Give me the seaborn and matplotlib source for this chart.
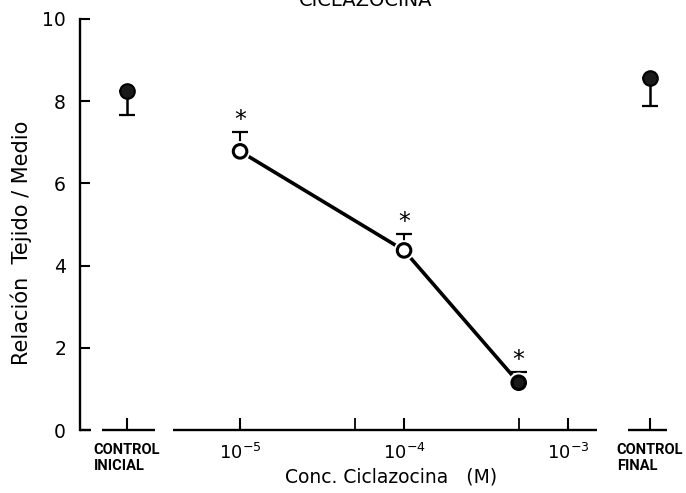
import numpy as np
import pandas as pd
import matplotlib
matplotlib.use("Agg")
import matplotlib.pyplot as plt
import matplotlib.patheffects as pe
from matplotlib import font_manager
from matplotlib.ticker import FixedLocator, NullFormatter
import seaborn as sns

# ---- data ----
conc = [1e-5, 1e-4, 5e-4]                 # M
ratio = [6.78, 4.37, 1.15]                # Relación Tejido / Medio
ratio_err_up = [0.46, 0.41, 0.26]
control_labels = ["CONTROL\nINICIAL", "CONTROL\nFINAL"]
control_vals = [8.24, 8.56]
control_err_down = [0.58, 0.68]
y_ticks = [0, 2, 4, 6, 8, 10]
dose_ticks = [1e-5, 1e-4, 1e-3]
dose_tick_labels = [r"$\mathregular{10^{-5}}$", r"$\mathregular{10^{-4}}$", r"$\mathregular{10^{-3}}$"]
dose_minor_ticks = [5e-5, 5e-4]

# ---- layout (log10 units on the x axis) ----
control_pos = [10 ** -5.689, 10 ** -2.50]
axis_segments = [(-5.976, -5.909), (-5.841, -5.518), (-5.409, -2.823), (-2.634, -2.396)]
open_marker = [True, True, False]

sns.set_theme(style="ticks")
plt.rcParams["font.family"] = ["DejaVu Sans"]
for k in ["text.color", "axes.labelcolor", "xtick.color", "ytick.color", "axes.edgecolor"]:
    plt.rcParams[k] = "black"

installed = {f.name for f in font_manager.fontManager.ttflist}
ctrl_font = "Roboto" if "Roboto" in installed else "DejaVu Sans"
ctrl_size = 10.5 if ctrl_font == "Roboto" else 9.5

fig = plt.figure(figsize=(6.86, 4.93), dpi=100)
ax = fig.add_axes([80 / 686, 63 / 493, 595 / 686, 411 / 493])
ax.set_xscale("log")
ax.set_xlim(10 ** -5.976, 10 ** -2.348)
ax.set_ylim(0, 10)

df = pd.DataFrame({"conc": conc, "ratio": ratio})
sns.lineplot(data=df, x="conc", y="ratio", color="black", lw=2.6, ax=ax, zorder=2)

# error bars (upper only) on dose points
ax.errorbar(conc, ratio, yerr=[np.zeros(len(ratio)), ratio_err_up], fmt="none",
            ecolor="black", elinewidth=1.5, capsize=6, capthick=1.6, zorder=3)
# error bars (lower only) on controls
ax.errorbar(control_pos, control_vals, yerr=[control_err_down, np.zeros(len(control_vals))],
            fmt="none", ecolor="black", elinewidth=1.8, capsize=6, capthick=1.6, zorder=3)

halo = [pe.Stroke(linewidth=5, foreground="white"), pe.Normal()]
for x, y, op in zip(conc, ratio, open_marker):
    sc = ax.scatter([x], [y], s=95, facecolor="white" if op else "#1a1a1a",
                    edgecolor="black", linewidth=2.2, zorder=4)
    sc.set_path_effects(halo)
sns.scatterplot(x=control_pos, y=control_vals, s=110, color="#1a1a1a",
                edgecolor="black", linewidth=1.5, ax=ax, zorder=4)

for x, y, e in zip(conc, ratio, ratio_err_up):
    ax.annotate("*", (x, y + e), xytext=(0, 0), textcoords="offset points",
                ha="center", va="bottom", fontsize=17, color="black")

# axes styling
for s in ["top", "right", "bottom"]:
    ax.spines[s].set_visible(False)
ax.spines["left"].set_linewidth(1.7)
for a, b in axis_segments:
    ax.hlines(0, 10 ** a, 10 ** b, color="black", lw=1.7, clip_on=False, zorder=1)

ax.set_yticks(y_ticks)
ax.set_yticklabels([str(t) for t in y_ticks], fontsize=13.5)
ax.set_xticks(control_pos + dose_ticks)
ax.set_xticklabels(control_labels + dose_tick_labels)
ax.xaxis.set_minor_locator(FixedLocator(dose_minor_ticks))
ax.xaxis.set_minor_formatter(NullFormatter())
for lab in ax.get_xticklabels()[:2]:
    lab.set_fontsize(ctrl_size)
    lab.set_family(ctrl_font)
    lab.set_fontweight("bold")
    lab.set_ha("center")
    lab.set_multialignment("left")
    lab.set_linespacing(1.25)
for lab in ax.get_xticklabels()[2:]:
    lab.set_fontsize(13)

ax.tick_params(axis="y", direction="in", length=7, width=1.5, pad=10)
ax.tick_params(axis="x", which="major", direction="in", length=9, width=1.5, pad=9)
ax.tick_params(axis="x", which="minor", direction="in", length=9, width=1.3)
ax.set_xlabel("")
ax.set_ylabel("")

fig.text(21 / 686, 1 - 243 / 493, "Relación  Tejido / Medio", rotation=90,
         ha="center", va="center", fontsize=15)
fig.text(391 / 686, 1 - 477 / 493, "Conc. Ciclazocina   (M)", ha="center", va="center", fontsize=13.5)
fig.text(366 / 686, 1.0, "CICLAZOCINA", ha="center", va="center", fontsize=14)

fig.savefig("out.png", dpi=100)
